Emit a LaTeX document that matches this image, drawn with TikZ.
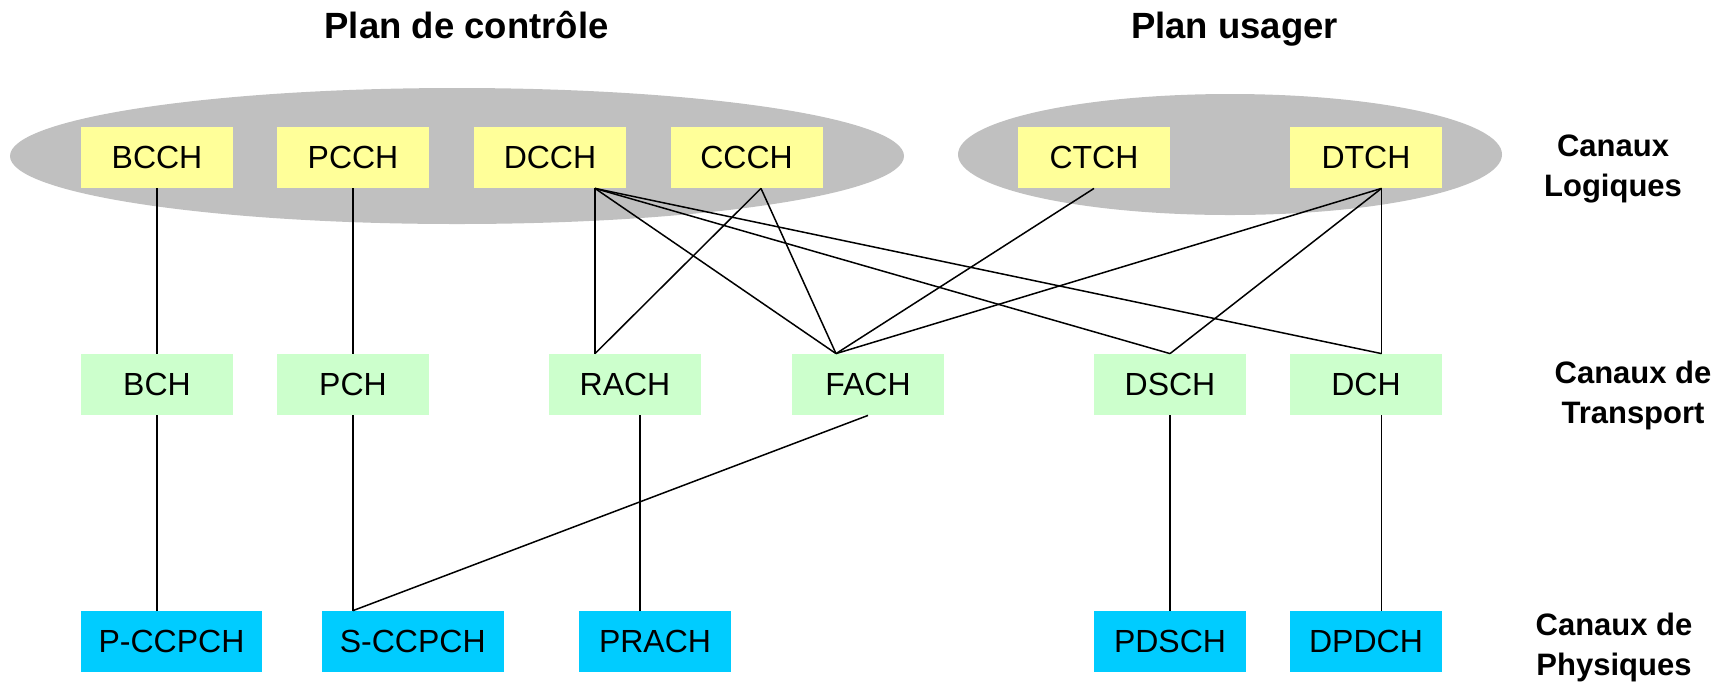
\documentclass[tikz,border=0pt]{standalone}
\usepackage{fontspec}
\setmainfont{Liberation Sans}
\usetikzlibrary{calc}
\definecolor{lgray}{HTML}{C0C0C0}
\definecolor{yel}{HTML}{FFFF99}
\definecolor{grn}{HTML}{CCFFCC}
\definecolor{cyn}{HTML}{00CCFF}
\begin{document}
\begin{tikzpicture}[x=0.5pt,y=-0.5pt,
  chan/.style={minimum width=76pt, minimum height=30.5pt, inner sep=0pt, font=\fontsize{16pt}{19pt}\selectfont},
  logic/.style={chan, fill=yel},
  transp/.style={chan, fill=grn},
  phys/.style={chan, fill=cyn},
  link/.style={draw=black, line width=0.75pt},
  title/.style={font=\bfseries\fontsize{18.25pt}{22pt}\selectfont, anchor=base, inner sep=0pt},
  layer/.style={font=\bfseries\fontsize{15.5pt}{20pt}\selectfont, align=center, inner sep=0pt}]
\useasboundingbox (0,0) rectangle (1728,682);
% groupings
\fill[lgray] (457,156) ellipse [x radius=223.5pt, y radius=34pt];
\fill[lgray] (1230,154.5) ellipse [x radius=136pt, y radius=30.25pt];
% titles
\node[title] (tctrl) at (466.6,38) {Plan de contrôle};
\node[title] (tuser) at (1234.6,38) {Plan usager};
% layer labels
\node[layer] (llog) at (1613,168.8) {Canaux\\Logiques};
\node[layer] (ltr) at (1633,395) {Canaux de\\Transport};
\node[layer] (lph) at (1614,647) {Canaux de\\Physiques};
% logical channels
\node[logic] (BCCH) at (157,157.5) {BCCH};
\node[logic] (PCCH) at (353,157.5) {PCCH};
\node[logic] (DCCH) at (550,157.5) {DCCH};
\node[logic] (CCCH) at (746.5,157.5) {CCCH};
\node[logic] (CTCH) at (1094,157.5) {CTCH};
\node[logic] (DTCH) at (1366,157.5) {DTCH};
% transport channels
\node[transp] (BCH) at (157,384.5) {BCH};
\node[transp] (PCH) at (353,384.5) {PCH};
\node[transp] (RACH) at (625,384.5) {RACH};
\node[transp] (FACH) at (868,384.5) {FACH};
\node[transp] (DSCH) at (1170,384.5) {DSCH};
\node[transp] (DCH) at (1366,384.5) {DCH};
% physical channels
\node[phys, minimum width=90.5pt] (PCCPCH) at (171.5,641.5) {P-CCPCH};
\node[phys, minimum width=90.75pt] (SCCPCH) at (412.75,641.5) {S-CCPCH};
\node[phys] (PRACH) at (655,641.5) {PRACH};
\node[phys] (PDSCH) at (1170,641.5) {PDSCH};
\node[phys] (DPDCH) at (1366,641.5) {DPDCH};
% anchor points
\coordinate (dcchS) at ([xshift=22.5pt]DCCH.south);
\coordinate (ccchS) at ([xshift=7.25pt]CCCH.south);
\coordinate (dtchS) at ([xshift=7.75pt]DTCH.south);
\coordinate (rachN) at ([xshift=-15pt]RACH.north);
\coordinate (fachN) at ([xshift=-16pt]FACH.north);
\coordinate (dchN) at ([xshift=7.75pt]DCH.north);
\coordinate (dchS) at ([xshift=7.75pt]DCH.south);
\coordinate (rachS) at ([xshift=7.5pt]RACH.south);
% logical -> transport
\draw[link] (BCCH.south) -- (BCH.north);
\draw[link] (PCCH.south) -- (PCH.north);
\draw[link] (dcchS) -- (rachN);
\draw[link] (dcchS) -- (fachN);
\draw[link] (dcchS) -- (DSCH.north);
\draw[link] (dcchS) -- (dchN);
\draw[link] (ccchS) -- (rachN);
\draw[link] (ccchS) -- (fachN);
\draw[link] (CTCH.south) -- (fachN);
\draw[link] (dtchS) -- (fachN);
\draw[link] (dtchS) -- (DSCH.north);
\draw[link] (dtchS) -- (dchN);
% transport -> physical
\draw[link] (BCH.south) -- (PCCPCH.north -| BCH.south);
\draw[link] (PCH.south) -- (SCCPCH.north -| PCH.south);
\draw[link] (FACH.south) -- (SCCPCH.north -| PCH.south);
\draw[link] (rachS) -- (PRACH.north -| rachS);
\draw[link] (DSCH.south) -- (PDSCH.north);
\draw[link] (dchS) -- (DPDCH.north -| dchS);
\end{tikzpicture}
\end{document}
